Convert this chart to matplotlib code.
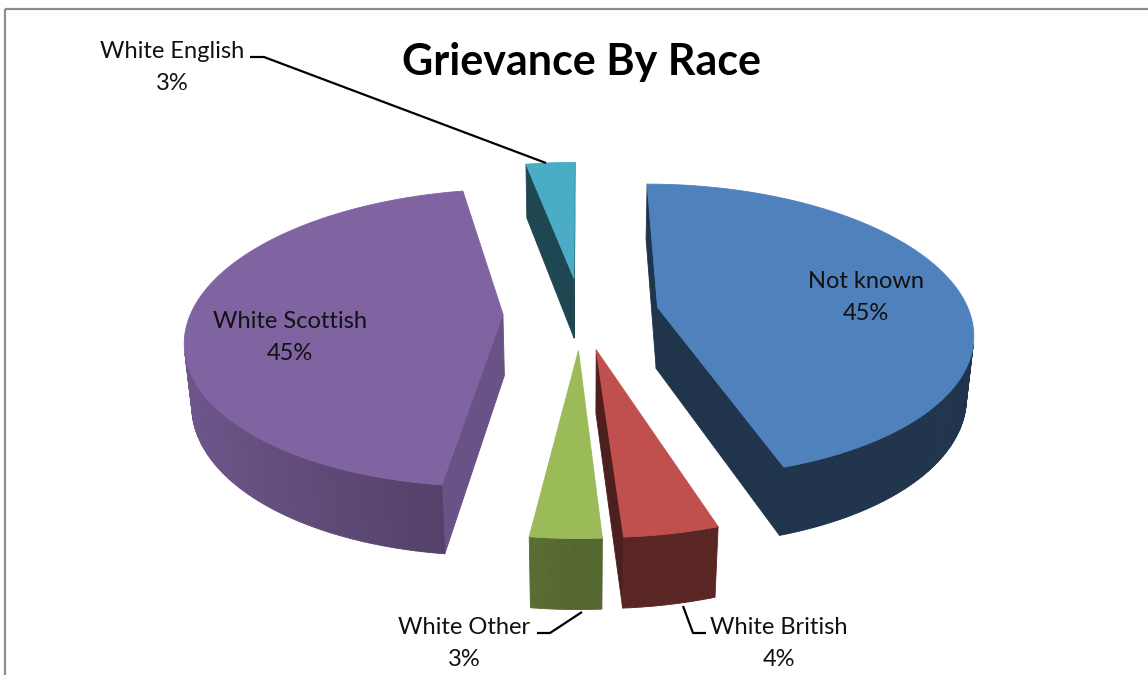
import numpy as np
import matplotlib
matplotlib.use("Agg")
import matplotlib.pyplot as plt
from matplotlib.patches import Polygon
from matplotlib.colors import to_rgb

# ---- data -------------------------------------------------------------
categories = ["Not known", "White British", "White Other", "White Scottish", "White English"]
shares = [45, 4, 3, 45, 3]
top_colors = ["#4F81BD", "#C0504D", "#9BBB59", "#8064A2", "#4BACC6"]
title = "Grievance By Race"

# ---- styling ----------------------------------------------------------
radial_shade = [0.40, 0.40, 0.45, 0.82, 0.41]
outer_shade = [0.40, 0.47, 0.55, 0.62, 0.41]
OUTER_AMP = 0.25

W, H = 1148, 675
CX, CY = 581, 313          # screen position of the pie centre
SCALE = 312                # pixels per unit radius at the centre depth
ELEV = np.radians(27.6)    # camera elevation
DIST = 5.57                # camera distance (perspective)
EXPLODE = 0.25
THICK = 0.226

FONT = "Lato"

cam = np.array([0.0, -DIST * np.cos(ELEV), DIST * np.sin(ELEV)])


def project(X, Y, Z):
    X, Y, Z = np.asarray(X, float), np.asarray(Y, float), np.asarray(Z, float)
    depth = DIST + Y * np.cos(ELEV) - Z * np.sin(ELEV)
    k = SCALE * DIST / depth
    return CX + X * k, CY - (Y * np.sin(ELEV) + Z * np.cos(ELEV)) * k


def shade(color, f):
    r, g, b = to_rgb(color)
    return (r * f, g * f, b * f)


def facing(point, normal):
    return np.dot(cam - point, normal) > 0


fig = plt.figure(figsize=(W / 100, H / 100), dpi=100)
ax = fig.add_axes([0, 0, 1, 1])
ax.set_xlim(0, W)
ax.set_ylim(H, 0)
ax.axis("off")

total = float(sum(shares))
bounds = np.concatenate([[0], np.cumsum(shares)]) / total * 360.0

slices = []
for i in range(len(shares)):
    a0, a1 = bounds[i], bounds[i + 1]
    mid = np.radians((a0 + a1) / 2)
    ox, oy = EXPLODE * np.sin(mid), EXPLODE * np.cos(mid)
    slices.append((oy, i, a0, a1, ox))

# far slices first
slices.sort(key=lambda s: -s[0])


def add_poly(xs, ys, col, z):
    ax.add_patch(Polygon(np.column_stack([xs, ys]), closed=True, facecolor=col,
                         edgecolor=col, lw=0.6, zorder=z, joinstyle="round"))


z = 1
for oy, i, a0, a1, ox in slices:
    base = top_colors[i]
    th = np.radians(np.linspace(a0, a1, max(4, int((a1 - a0) * 1.5))))
    rx, ry = ox + np.sin(th), oy + np.cos(th)

    # radial cut faces
    for edge, nang in ((a0, a0 - 90), (a1, a1 + 90)):
        e = np.radians(edge)
        n = np.array([np.sin(np.radians(nang)), np.cos(np.radians(nang)), 0.0])
        p = np.array([ox, oy, 0.0])
        if facing(p, n):
            ex, ey = ox + np.sin(e), oy + np.cos(e)
            xs, ys = project([ox, ex, ex, ox], [oy, ey, ey, oy], [0, 0, -THICK, -THICK])
            add_poly(xs, ys, shade(base, radial_shade[i]), z)

    # curved outer wall
    for j in range(len(th) - 1):
        tm = 0.5 * (th[j] + th[j + 1])
        n = np.array([np.sin(tm), np.cos(tm), 0.0])
        p = np.array([ox + np.sin(tm), oy + np.cos(tm), -THICK / 2])
        if facing(p, n):
            f = outer_shade[i] + OUTER_AMP * max(0.0, -np.sin(tm))
            xs, ys = project([rx[j], rx[j + 1], rx[j + 1], rx[j]],
                             [ry[j], ry[j + 1], ry[j + 1], ry[j]],
                             [0, 0, -THICK, -THICK])
            add_poly(xs, ys, shade(base, f), z)
    z += 1

    # top face
    xs, ys = project(np.concatenate([[ox], rx]), np.concatenate([[oy], ry]),
                     np.zeros(len(rx) + 1))
    add_poly(xs, ys, base, z)
    z += 1

# ---- text ---------------------------------------------------------------
label_pos = {
    "Not known": (866, 281),
    "White British": (779, 627),
    "White Other": (464, 627),
    "White Scottish": (290, 322),
    "White English": (172, 52),
}
for name, share in zip(categories, shares):
    x, y = label_pos[name]
    ax.text(x, y, name, ha="center", va="center", fontsize=17,
            family=FONT, color="#111111", zorder=50)
    ax.text(x, y + 32, f"{share}%", ha="center", va="center", fontsize=17,
            family=FONT, color="#111111", zorder=50)

ax.text(581, 62, title, ha="center", va="center", fontsize=31,
        fontweight="bold", family=FONT, color="black", zorder=50)

# leader lines
leader_kw = dict(color="black", lw=1.6, zorder=40, solid_capstyle="butt")
ax.plot([250, 264, 546], [57, 57, 163], **leader_kw)
ax.plot([537, 550, 582], [633, 633, 612], **leader_kw)
ax.plot([683, 693, 706], [606, 633, 633], **leader_kw)

# chart frame
frame_kw = dict(color="#8C8C8C", lw=1.6, zorder=60, solid_capstyle="butt")
ax.plot([5, W], [9, 9], **frame_kw)
ax.plot([5, 5], [9, H], **frame_kw)

fig.savefig("out.png", dpi=100)
